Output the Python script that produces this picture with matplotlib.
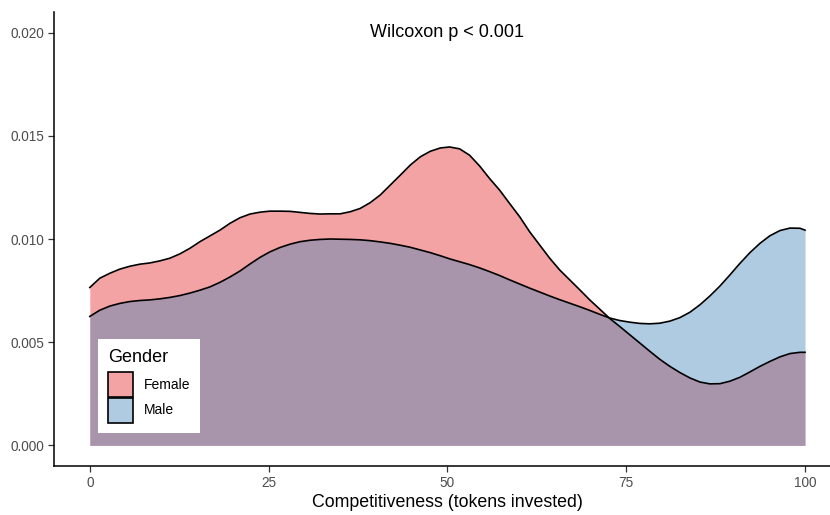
import matplotlib.pyplot as plt
from matplotlib.colors import to_rgba
from matplotlib.patches import Patch

plt.rcParams['font.family'] = ['Liberation Sans', 'DejaVu Sans']

# density curves, on a shared grid of tokens invested
tokens = [0.0, 1.4, 2.8, 4.2, 5.6, 7.0, 8.4, 9.8, 11.2, 12.6,
          14.0, 15.4, 16.8, 18.2, 19.6, 21.0, 22.4, 23.8, 25.2, 26.6,
          28.0, 29.4, 30.8, 32.2, 33.6, 35.0, 36.4, 37.8, 39.2, 40.6,
          42.0, 43.4, 44.8, 46.2, 47.6, 49.0, 50.3, 51.7, 53.1, 54.5,
          55.9, 57.3, 58.7, 60.1, 61.5, 62.9, 64.3, 65.7, 67.1, 68.5,
          69.9, 71.3, 72.7, 74.1, 75.5, 76.9, 78.3, 79.7, 81.1, 82.5,
          83.9, 85.3, 86.7, 88.1, 89.5, 90.9, 92.3, 93.7, 95.1, 96.5,
          97.9, 99.3, 100.0]

female = [0.00765, 0.00810, 0.00834, 0.00854, 0.00868, 0.00878, 0.00884, 0.00894, 0.00907, 0.00928,
          0.00955, 0.00987, 0.01015, 0.01043, 0.01076, 0.01103, 0.01121, 0.01130, 0.01135, 0.01135,
          0.01134, 0.01129, 0.01124, 0.01121, 0.01122, 0.01122, 0.01132, 0.01148, 0.01176, 0.01213,
          0.01261, 0.01309, 0.01358, 0.01398, 0.01425, 0.01441, 0.01446, 0.01437, 0.01406, 0.01354,
          0.01293, 0.01237, 0.01172, 0.01108, 0.01035, 0.00971, 0.00907, 0.00850, 0.00802, 0.00754,
          0.00705, 0.00660, 0.00615, 0.00576, 0.00536, 0.00496, 0.00456, 0.00417, 0.00383, 0.00353,
          0.00327, 0.00307, 0.00298, 0.00299, 0.00311, 0.00330, 0.00356, 0.00383, 0.00407, 0.00429,
          0.00445, 0.00451, 0.00451]

male = [0.00625, 0.00655, 0.00675, 0.00688, 0.00697, 0.00702, 0.00705, 0.00710, 0.00717, 0.00726,
        0.00738, 0.00752, 0.00768, 0.00790, 0.00816, 0.00845, 0.00879, 0.00911, 0.00938, 0.00959,
        0.00975, 0.00987, 0.00994, 0.00998, 0.01000, 0.00999, 0.00998, 0.00996, 0.00992, 0.00986,
        0.00979, 0.00970, 0.00960, 0.00947, 0.00934, 0.00919, 0.00904, 0.00890, 0.00876, 0.00860,
        0.00842, 0.00823, 0.00802, 0.00782, 0.00762, 0.00743, 0.00724, 0.00706, 0.00689, 0.00672,
        0.00654, 0.00635, 0.00617, 0.00605, 0.00597, 0.00591, 0.00589, 0.00592, 0.00602, 0.00619,
        0.00645, 0.00681, 0.00724, 0.00772, 0.00826, 0.00882, 0.00934, 0.00979, 0.01016, 0.01041,
        0.01053, 0.01052, 0.01043]

groups = ['Female', 'Male']
colors = ['#E41A1C', '#377EB8']

fig = plt.figure(figsize=(8.3, 5.15), dpi=100)
ax = fig.add_axes([0.0651, 0.0951, 0.9479, 0.8816])

for ys, col in [(female, colors[0]), (male, colors[1])]:
    ax.fill_between(tokens, 0, ys, color=col, alpha=0.4, linewidth=0)
    ax.plot(tokens, ys, color='black', lw=1.2)

ax.text(50, 0.02, 'Wilcoxon p < 0.001', ha='center', va='center', fontsize=13)

ax.set_xlim(-5, 105)
ax.set_ylim(-0.001, 0.021)
ax.set_xticks([0, 25, 50, 75, 100])
ax.set_yticks([0, 0.005, 0.010, 0.015, 0.020])
ax.set_yticklabels(['0.000', '0.005', '0.010', '0.015', '0.020'])
ax.set_xlabel('Competitiveness (tokens invested)', fontsize=12.8, labelpad=3)
for side in ['top', 'right']:
    ax.spines[side].set_visible(False)
for side in ['left', 'bottom']:
    ax.spines[side].set_linewidth(1.1)
ax.tick_params(length=4, width=0.9, color='#333333', labelcolor='#4D4D4D',
               labelsize=9.8, pad=3)

handles = [Patch(facecolor=to_rgba(c, 0.4), edgecolor='black', linewidth=1.2) for c in colors]
leg = ax.legend(handles, groups, title='Gender', loc='lower left',
                bbox_to_anchor=(0.0559, 0.0727), borderaxespad=0, fontsize=10,
                title_fontsize=13, handlelength=1.8, handleheight=2.39,
                labelspacing=0.05, handletextpad=0.72, borderpad=0.75,
                frameon=True, fancybox=False, alignment='left')
leg._legend_box.sep = 4.1  # more room between title and keys
leg.get_frame().set_facecolor('white')
leg.get_frame().set_edgecolor('none')
leg.get_frame().set_alpha(1)

plt.savefig('out.png', dpi=100)
